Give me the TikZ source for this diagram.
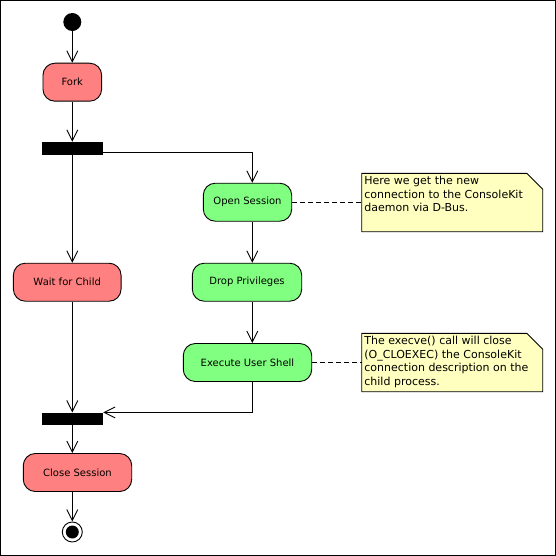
\documentclass[tikz,border=0pt]{standalone}
\usepackage{fontspec}
\setmainfont{DejaVu Sans}
\usetikzlibrary{arrows.meta,calc}
\definecolor{actred}{HTML}{FF8080}
\definecolor{actgreen}{HTML}{80FF80}
\definecolor{notefill}{HTML}{FFFFC0}
\tikzset{
  act/.style={draw=black,line width=0.9pt,rounded corners=12pt,minimum height=38pt,inner sep=0pt,font=\fontsize{10}{12}\selectfont},
  redact/.style={act,fill=actred},
  greenact/.style={act,fill=actgreen},
  bar/.style={fill=black,draw=none,minimum width=61pt,minimum height=12.5pt,inner sep=0pt},
  flow/.style={line width=0.9pt,-{Straight Barb[length=11pt,width=11pt,line width=0.9pt]}},
  notebox/.style={draw=none,fill=none,inner sep=0pt,anchor=north west,minimum width=180.6pt,minimum height=58pt},
  noteshape/.style={draw=black,fill=notefill,line width=0.9pt},
  notetext/.style={anchor=north west,inner sep=0pt,align=left,font=\fontsize{11}{13.4}\selectfont},
  anchorline/.style={line width=0.9pt,dash pattern=on 5pt off 3pt}
}
\begin{document}
\begin{tikzpicture}[x=1pt,y=-1pt]
\useasboundingbox (0,0) rectangle (556,556);
\draw[line width=1pt] (0.5,0.5) rectangle (555,555);

\coordinate (mx) at (72.3,0);
\coordinate (cx) at (252.3,0);

\node[circle,fill=black,minimum size=18pt,inner sep=0pt] (start) at (72.3,22) {};
\node[redact,minimum width=58.7pt] (fork) at (72.3,82.2) {Fork};
\node[bar] (bar1) at (72.5,148.3) {};
\node[greenact,minimum width=88.4pt] (open) at (247.5,202.2) {Open Session};
\node[redact,minimum width=107.7pt] (wait) at (67.2,282.2) {Wait for Child};
\node[greenact,minimum width=109.4pt] (drop) at (247,282.2) {Drop Privileges};
\node[greenact,minimum width=128.4pt] (exec) at (247.5,362.5) {Execute User Shell};
\node[bar,minimum height=12.3pt] (bar2) at (72.5,418.8) {};
\node[redact,minimum width=108.4pt] (close) at (77.5,472.5) {Close Session};
\node[circle,draw=black,line width=0.9pt,fill=white,minimum size=20pt,inner sep=0pt] (end) at (72.3,532) {};
\node[circle,fill=black,minimum size=13pt,inner sep=0pt] at (end.center) {};

% notes
\node[notebox] (n1) at (361.7,173.3) {};
\draw[noteshape] (n1.north west) -- ($(n1.north east)+(-16,0)$) -- ($(n1.north east)+(0,16)$) -- (n1.south east) -- (n1.south west) -- cycle;
\node[notetext] (t1) at ($(n1.north west)+(2.5,3)$) {Here we get the new\\connection to the ConsoleKit\\daemon via D-Bus.};

\node[notebox] (n2) at (361.7,333.3) {};
\draw[noteshape] (n2.north west) -- ($(n2.north east)+(-16,0)$) -- ($(n2.north east)+(0,16)$) -- (n2.south east) -- (n2.south west) -- cycle;
\node[notetext] (t2) at ($(n2.north west)+(2.5,3)$) {The execve() call will close\\(O\_CLOEXEC) the ConsoleKit\\connection description on the\\child process.};

% flows
\draw[flow] (start.south) -- (fork.north);
\draw[flow] (fork.south) -- (bar1.north -| mx);
\draw[flow] (bar1.south -| mx) -- (wait.north -| mx);
\draw[flow] ($(bar1.east)+(0,4.4)$) -| (open.north -| cx);
\draw[flow] (open.south -| cx) -- (drop.north -| cx);
\draw[flow] (drop.south -| cx) -- (exec.north -| cx);
\draw[flow] (exec.south -| cx) |- (bar2.north east);
\draw[flow] (wait.south -| mx) -- (bar2.north -| mx);
\draw[flow] (bar2.south -| mx) -- (close.north -| mx);
\draw[flow] (close.south -| mx) -- (end.north);

\draw[anchorline] (open.east) -- (open.east -| n1.west);
\draw[anchorline] (exec.east) -- (exec.east -| n2.west);
\end{tikzpicture}
\end{document}
